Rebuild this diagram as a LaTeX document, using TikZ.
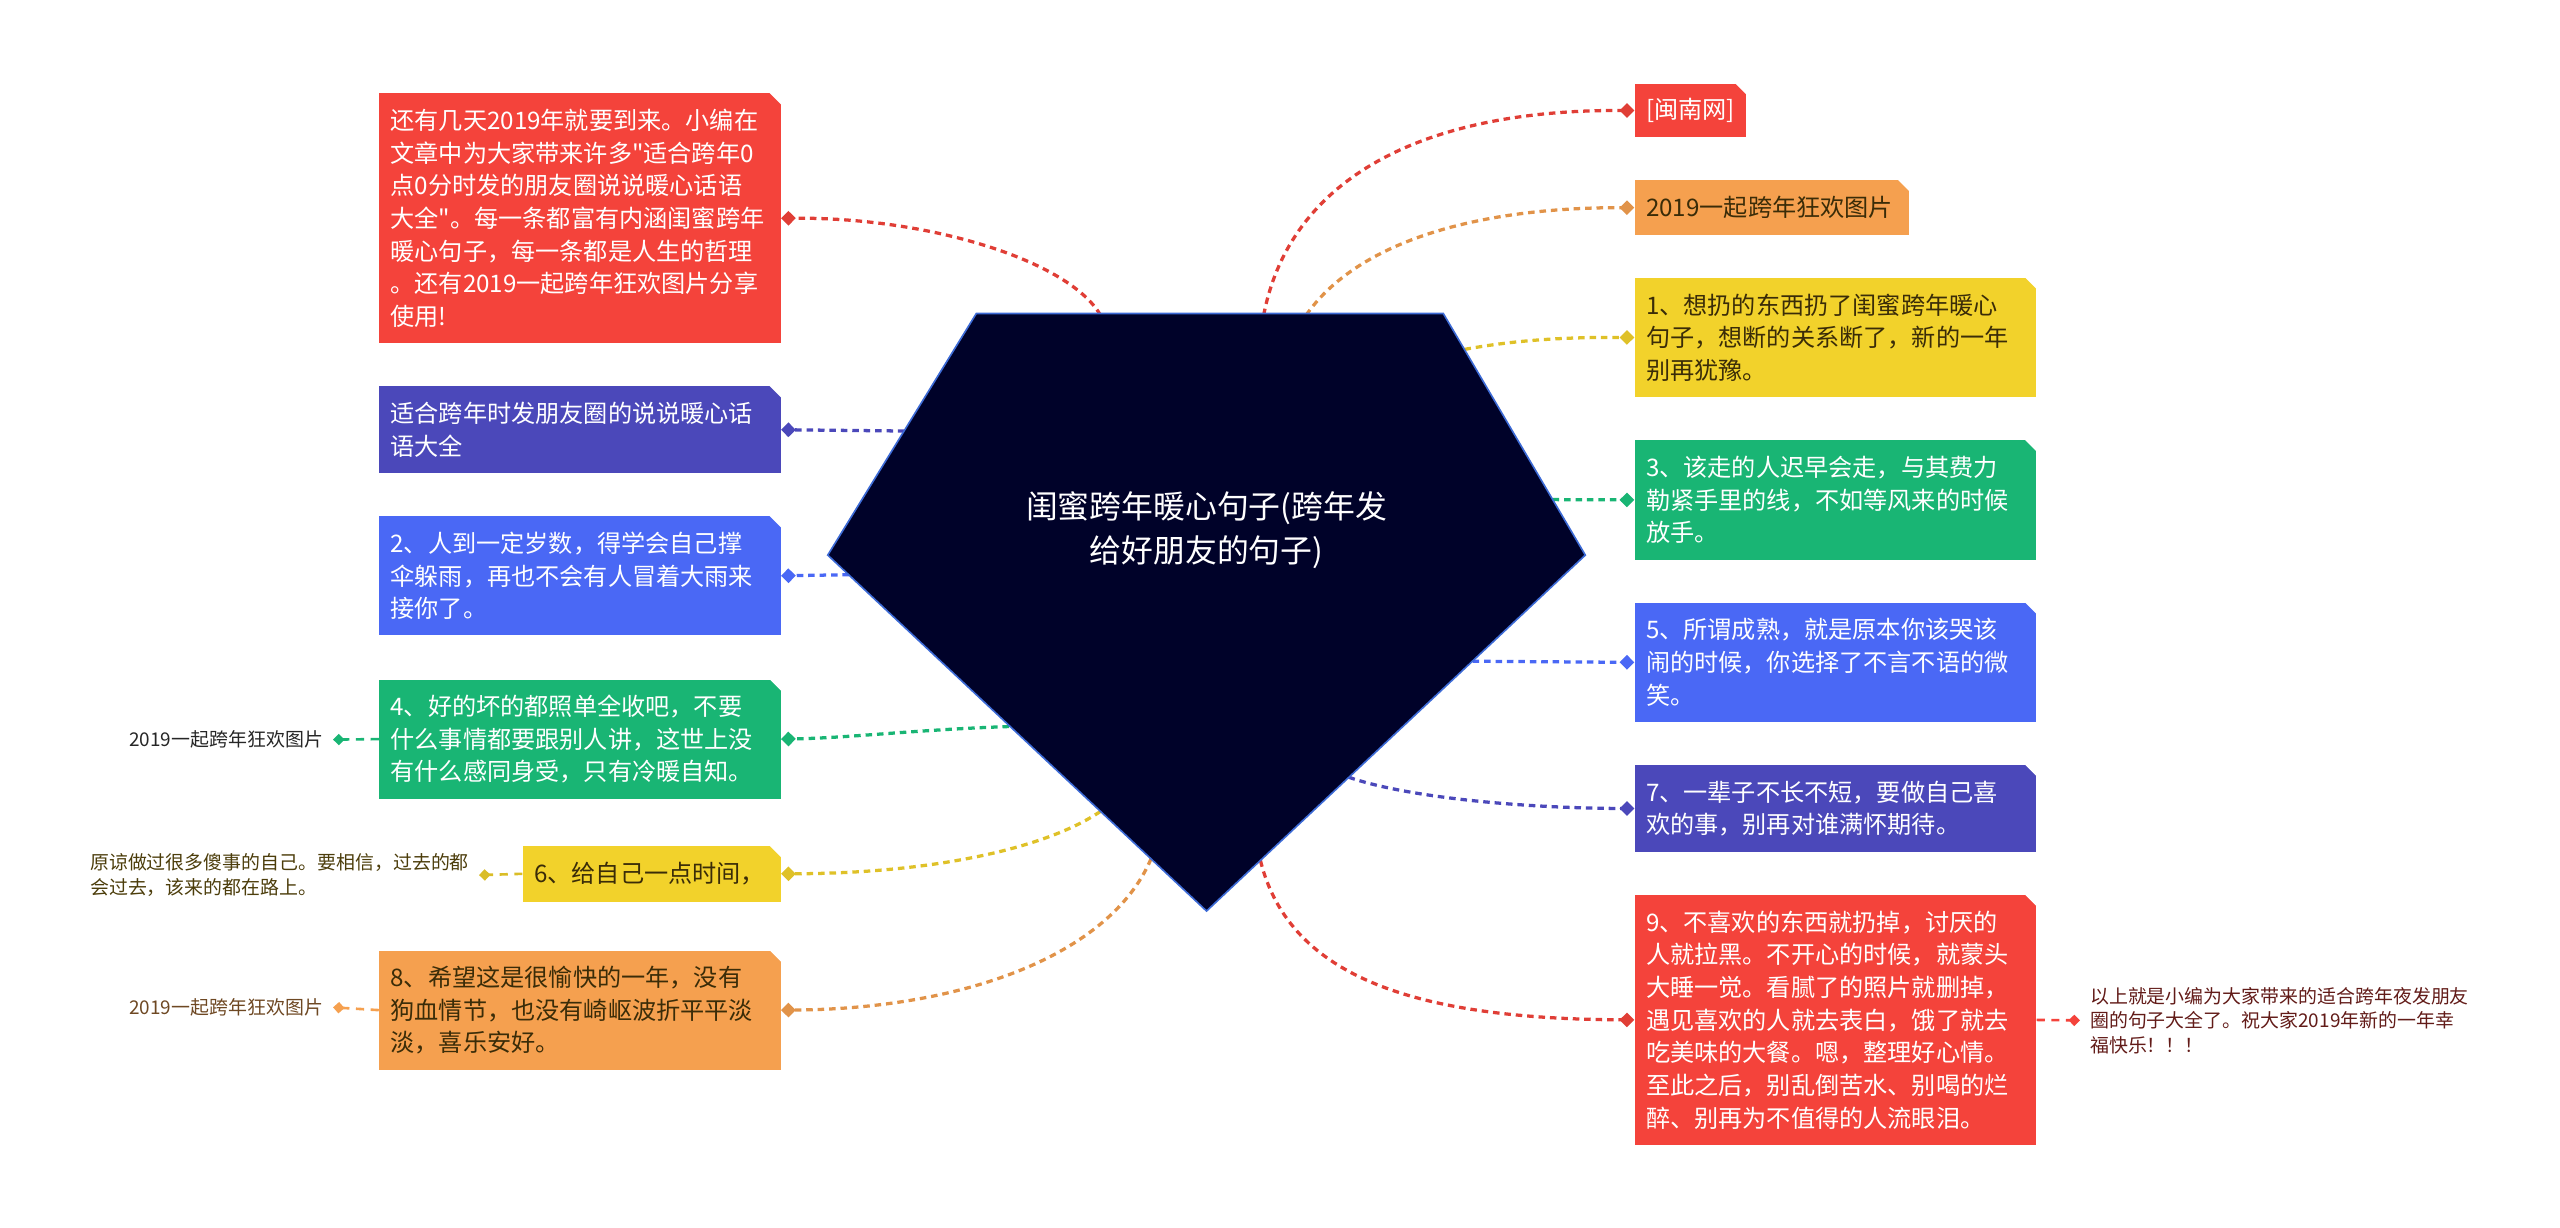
\documentclass[tikz,border=0pt]{standalone}
\usepackage{fontspec}
\setmainfont{Noto Sans CJK SC}[Ligatures=TeXOff]
\usetikzlibrary{arrows.meta}

\definecolor{cRed}{HTML}{F4433B}
\definecolor{cOrange}{HTML}{F5A04F}
\definecolor{cYellow}{HTML}{F2D22B}
\definecolor{cGreen}{HTML}{19B574}
\definecolor{cBlue}{HTML}{4A68F5}
\definecolor{cIndigo}{HTML}{4B48BA}
\definecolor{cRoot}{HTML}{000229}
\definecolor{cRootLine}{HTML}{3D6BD6}
\definecolor{cInk}{HTML}{3A2C08}

\newcommand\boxfont{\fontsize{14.8}{20}\selectfont}
\newcommand\leaffont{\fontsize{11.6}{15}\selectfont}
\newcommand\rootfont{\fontsize{19.5}{27}\selectfont}

\tikzset{
  topic/.style={anchor=north west, inner xsep=7pt, inner ysep=0pt, align=left,
    text width=232pt, font=\boxfont, text=white},
  leaf/.style={inner xsep=6pt, inner ysep=2pt, align=left, font=\leaffont},
  link/.style={line width=2pt, dash pattern=on 4pt off 3pt, -{Diamond[length=9pt,width=9pt]}},
  twig/.style={line width=1.6pt, dash pattern=on 5pt off 4pt, -{Diamond[length=7pt,width=7pt]}},
}

\begin{document}
\begin{tikzpicture}[x=1pt,y=-1pt]
\useasboundingbox (0,0) rectangle (1568,752);
% left branches
\node[topic, fill=cRed, minimum height=153pt] (intro) at (232,57) {还有几天2019年就要到来。小编在\\文章中为大家带来许多"适合跨年0\\点0分时发的朋友圈说说暖心话语\\大全"。每一条都富有内涵闺蜜跨年\\暖心句子，每一条都是人生的哲理\\。还有2019一起跨年狂欢图片分享\\使用!};
\node[topic, fill=cIndigo, minimum height=53pt] (tips) at (232,236.5) {适合跨年时发朋友圈的说说暖心话\\语大全};
\node[topic, fill=cBlue, minimum height=73pt] (b2) at (232,316) {2、人到一定岁数，得学会自己撑\\伞躲雨，再也不会有人冒着大雨来\\接你了。};
\node[topic, fill=cGreen, minimum height=73pt] (b4) at (232,416) {4、好的坏的都照单全收吧，不要\\什么事情都要跟别人讲，这世上没\\有什么感同身受，只有冷暖自知。};
\node[topic, fill=cYellow, text=cInk, text width=144pt, minimum height=34pt] (b6) at (320,518) {6、给自己一点时间，};
\node[topic, fill=cOrange, text=cInk, minimum height=73pt] (b8) at (232,582) {8、希望这是很愉快的一年，没有\\狗血情节，也没有崎岖波折平平淡\\淡，喜乐安好。};
% right branches
\node[topic, fill=cRed, text width=54.4pt, minimum height=33pt] (src) at (1001,51) {[闽南网]};
\node[topic, fill=cOrange, text=cInk, text width=154pt, minimum height=34pt] (pics) at (1001,110) {2019一起跨年狂欢图片};
\node[topic, fill=cYellow, text=cInk, minimum height=73pt] (b1) at (1001,170) {1、想扔的东西扔了闺蜜跨年暖心\\句子，想断的关系断了，新的一年\\别再犹豫。};
\node[topic, fill=cGreen, minimum height=73pt] (b3) at (1001,269.5) {3、该走的人迟早会走，与其费力\\勒紧手里的线，不如等风来的时候\\放手。};
\node[topic, fill=cBlue, minimum height=73pt] (b5) at (1001,369) {5、所谓成熟，就是原本你该哭该\\闹的时候，你选择了不言不语的微\\笑。};
\node[topic, fill=cIndigo, minimum height=53pt] (b7) at (1001,468.5) {7、一辈子不长不短，要做自己喜\\欢的事，别再对谁满怀期待。};
\node[topic, fill=cRed, minimum height=153pt] (b9) at (1001,548) {9、不喜欢的东西就扔掉，讨厌的\\人就拉黑。不开心的时候，就蒙头\\大睡一觉。看腻了的照片就删掉，\\遇见喜欢的人就去表白，饿了就去\\吃美味的大餐。嗯，整理好心情。\\至此之后，别乱倒苦水、别喝的烂\\醉、别再为不值得的人流眼泪。};
% cut corners
\foreach \n in {intro,tips,b2,b4,b6,b8,src,pics,b1,b3,b5,b7,b9}
  \fill[white] ([xshift=-7pt]\n.north east) -- (\n.north east) -- ([yshift=-7pt]\n.north east) -- cycle;
% leaves
\node[leaf, anchor=east, text=black!85] (l4) at (204,453) {2019一起跨年狂欢图片};
\node[leaf, anchor=west, text=cInk!90!cYellow] (l6) at (49,536) {原谅做过很多傻事的自己。要相信，过去的都\\会过去，该来的都在路上。};
\node[leaf, anchor=east, text=cOrange!45!black] (l8) at (204,617) {2019一起跨年狂欢图片};
\node[leaf, anchor=west, text=cRed!40!black] (l9) at (1274,625) {以上就是小编为大家带来的适合跨年夜发朋友\\圈的句子大全了。祝大家2019年新的一年幸\\福快乐！！！};
\draw[twig, cGreen] (b4.west) -- (l4.east);
\draw[twig, cYellow!90!black] (b6.west) -- (l6.east);
\draw[twig, cOrange] (b8.west) -- (l8.east);
\draw[twig, cRed] (b9.east) -- (l9.west);
% points on the centre shape
\coordinate (pIntro) at (674,193);
\coordinate (pTips) at (554,264);
\coordinate (pB2) at (520,352);
\coordinate (pB4) at (618,445);
\coordinate (pB6) at (674,497);
\coordinate (pB8) at (705,526);
\coordinate (pSrc) at (774,193);
\coordinate (pPics) at (800,193);
\coordinate (pB1) at (897,214);
\coordinate (pB3) at (951,306);
\coordinate (pB5) at (902,405);
\coordinate (pB7) at (826,476);
\coordinate (pB9) at (772,527);
% connectors
\draw[link, cRed!92!black] (pIntro) .. controls (655,160) and (570,133) .. (intro.east);
\draw[link, cIndigo] (pTips) -- (tips.east);
\draw[link, cBlue] (pB2) -- (b2.east);
\draw[link, cGreen] (pB4) .. controls (560,447) and (520,452) .. (b4.east);
\draw[link, cYellow!92!black] (pB6) .. controls (640,520) and (570,535) .. (b6.east);
\draw[link, cOrange!92!black] (pB8) .. controls (680,585) and (590,618) .. (b8.east);
\draw[link, cRed!92!black] (pSrc) .. controls (790,110) and (870,67) .. (src.west);
\draw[link, cOrange!92!black] (pPics) .. controls (830,150) and (900,127) .. (pics.west);
\draw[link, cYellow!92!black] (pB1) .. controls (930,208) and (960,206.5) .. (b1.west);
\draw[link, cGreen] (pB3) -- (b3.west);
\draw[link, cBlue] (pB5) -- (b5.west);
\draw[link, cIndigo] (pB7) .. controls (860,488) and (930,495) .. (b7.west);
\draw[link, cRed!92!black] (pB9) .. controls (790,600) and (870,624) .. (b9.west);
% centre
\filldraw[fill=cRoot, draw=cRootLine, line width=1pt] (598,192) -- (884,192) -- (971,340) -- (739,558) -- (507,340) -- cycle;
\node[font=\rootfont, text=white, align=center] (root) at (739,324.5) {闺蜜跨年暖心句子(跨年发\\给好朋友的句子)};
\end{tikzpicture}
\end{document}
